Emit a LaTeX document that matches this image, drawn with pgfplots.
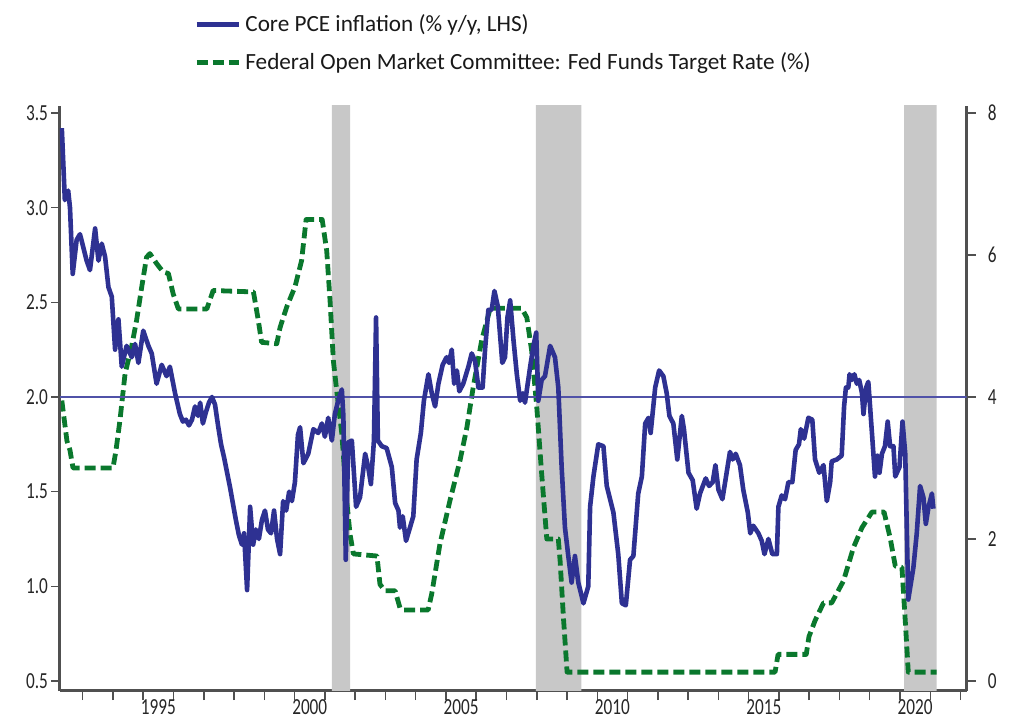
\documentclass[border=0pt]{standalone}
\usepackage{fontspec}
\setmainfont{Carlito}
\newfontfamily\tickfont[FakeStretch=0.75]{Carlito}
\usepackage{pgfplots}
\pgfplotsset{compat=1.18}
\definecolor{pceblue}{RGB}{46,49,146}
\definecolor{refblue}{RGB}{80,82,168}
\definecolor{fedgreen}{RGB}{10,120,45}
\definecolor{recgray}{RGB}{200,200,200}
\definecolor{axgray}{RGB}{80,80,80}
\begin{document}
\begin{tikzpicture}
\useasboundingbox (-30pt,-16.5pt) rectangle (476.5pt,345.5pt);
\pgfplotsset{
  common/.style={
    at={(0pt,0pt)}, anchor=south west,
    width=453.35pt, height=292.5pt, scale only axis,
    xmin=1992.25, xmax=2022.20,
    tick align=outside,
    major tick length=4.5pt,
    every tick/.style={axgray, line width=0.75pt},
    axis line style={axgray, line width=1.5pt},
    tick label style={font=\tickfont\fontsize{11.5}{12}\selectfont, text=black!85},
    /pgf/number format/assume math mode=true,
  }
}
\begin{axis}[common,
  axis x line*=bottom, axis y line*=right,
  ymin=-0.141, ymax=8.099,
  ytick={0,2,4,6,8},
  yticklabel style={xshift=2.5pt},
  xtick={1993,...,2022},
  xticklabels={,,1995,,,,,2000,,,,,2005,,,,,2010,,,,,2015,,,,,2020,,},
  xticklabel style={xshift=7.57pt, yshift=3.5pt},
]
\addplot[fill=recgray, draw=none, forget plot] coordinates {(2001.23,-1) (2001.83,-1) (2001.83,9) (2001.23,9) (2001.23,-1)};
\addplot[fill=recgray, draw=none, forget plot] coordinates {(2007.97,-1) (2009.47,-1) (2009.47,9) (2007.97,9) (2007.97,-1)};
\addplot[fill=recgray, draw=none, forget plot] coordinates {(2020.13,-1) (2021.21,-1) (2021.21,9) (2020.13,9) (2020.13,-1)};
\addplot[fedgreen, line width=2.4pt, dash pattern=on 5.5pt off 2.5pt, line join=round, forget plot] coordinates {
(1992.31,3.95) (1992.48,3.38) (1992.58,3.25) (1992.68,3.0) (1994.00,3.0) (1994.10,3.25) (1994.23,3.67) (1994.40,4.33) (1994.62,4.72) (1994.78,5.08) (1994.95,5.55) (1995.11,5.97) (1995.22,6.02) (1995.44,5.88) (1995.66,5.76) (1995.83,5.74) (1995.99,5.45) (1996.16,5.24) (1997.10,5.24) (1997.31,5.50) (1998.64,5.48) (1998.80,5.08) (1998.91,4.77) (1999.41,4.75) (1999.52,4.98) (1999.74,5.27) (2000.01,5.55) (2000.23,5.92) (2000.38,6.5) (2000.91,6.5) (2001.06,6.06) (2001.17,5.36) (2001.28,4.51) (2001.39,4.09) (2001.56,3.48) (2001.72,2.54) (2001.83,2.07) (2001.94,1.79) (2002.72,1.76) (2002.82,1.36) (2002.99,1.27) (2003.32,1.27) (2003.48,1.03) (2003.58,1.0) (2004.41,1.0) (2004.53,1.23) (2004.80,1.93) (2005.13,2.54) (2005.46,3.10) (2005.69,3.57) (2005.90,4.14) (2006.18,4.80) (2006.46,5.25) (2007.50,5.25) (2007.67,5.12) (2007.83,4.65) (2008.00,3.85) (2008.16,2.92) (2008.33,2.0) (2008.71,2.0) (2008.77,1.69) (2008.88,0.89) (2009.00,0.125) (2015.87,0.125) (2015.97,0.375) (2016.90,0.375) (2016.99,0.625) (2017.19,0.85) (2017.47,1.10) (2017.74,1.10) (2018.13,1.41) (2018.46,1.88) (2018.74,2.16) (2019.07,2.38) (2019.47,2.38) (2019.67,2.02) (2019.84,1.62) (2020.06,1.60) (2020.17,0.85) (2020.27,0.125) (2021.21,0.125)
};
\end{axis}
\begin{axis}[common,
  axis x line=none, axis y line*=left,
  ymin=0.447, ymax=3.537,
  ytick={0.5,1.0,1.5,2.0,2.5,3.0,3.5},
  yticklabel style={xshift=2pt, /pgf/number format/fixed, /pgf/number format/fixed zerofill, /pgf/number format/precision=1},
  legend style={at={(0.148,1.164)}, anchor=north west, draw=none, fill=none,
    font=\fontsize{11.6}{13}\selectfont, text=black!90, row sep=5pt, inner sep=0pt},
  legend cell align=left,
  legend image code/.code={\draw[#1] (0pt,0pt) -- (16pt,0pt); \path (0pt,0pt) -- (21pt,0pt);},
]
\addplot[refblue, line width=0.8pt, forget plot] coordinates {(1992.25,2) (2022.2,2)};
\addplot[pceblue, line width=2.3pt, line join=round] coordinates {
(1992.31,3.42) (1992.41,3.04) (1992.52,3.09) (1992.58,3.00) (1992.67,2.65) (1992.80,2.83) (1992.91,2.86) (1993.02,2.79) (1993.13,2.72) (1993.24,2.67) (1993.41,2.89) (1993.52,2.72) (1993.63,2.81) (1993.74,2.74) (1993.85,2.58) (1993.96,2.53) (1994.07,2.25) (1994.18,2.41) (1994.29,2.16) (1994.45,2.27) (1994.62,2.21) (1994.73,2.28) (1994.84,2.18) (1995.00,2.35) (1995.17,2.27) (1995.28,2.23) (1995.44,2.07) (1995.61,2.17) (1995.77,2.11) (1995.88,2.16) (1996.05,2.02) (1996.21,1.91) (1996.31,1.87) (1996.41,1.88) (1996.51,1.85) (1996.61,1.88) (1996.71,1.95) (1996.81,1.90) (1996.88,1.97) (1996.97,1.86) (1997.07,1.92) (1997.17,1.97) (1997.27,2.00) (1997.37,1.96) (1997.47,1.85) (1997.57,1.75) (1997.67,1.68) (1997.77,1.60) (1997.87,1.52) (1997.97,1.43) (1998.06,1.35) (1998.16,1.27) (1998.26,1.22) (1998.33,1.28) (1998.43,0.98) (1998.53,1.42) (1998.63,1.22) (1998.72,1.30) (1998.82,1.25) (1998.92,1.35) (1999.02,1.40) (1999.12,1.30) (1999.22,1.28) (1999.32,1.40) (1999.42,1.25) (1999.52,1.17) (1999.62,1.45) (1999.72,1.40) (1999.82,1.50) (1999.91,1.45) (2000.01,1.55) (2000.11,1.80) (2000.18,1.84) (2000.29,1.65) (2000.45,1.70) (2000.62,1.83) (2000.78,1.81) (2000.90,1.86) (2001.00,1.79) (2001.11,1.89) (2001.23,1.77) (2001.33,1.91) (2001.44,1.98) (2001.56,2.04) (2001.61,1.90) (2001.69,1.14) (2001.77,1.76) (2001.89,1.77) (2002.03,1.42) (2002.16,1.47) (2002.33,1.70) (2002.43,1.63) (2002.52,1.54) (2002.62,1.77) (2002.69,2.42) (2002.75,1.77) (2002.88,1.74) (2003.04,1.73) (2003.21,1.63) (2003.32,1.44) (2003.43,1.40) (2003.48,1.31) (2003.57,1.37) (2003.68,1.24) (2003.81,1.31) (2003.92,1.37) (2004.03,1.67) (2004.17,1.81) (2004.27,1.98) (2004.42,2.12) (2004.53,2.02) (2004.64,1.95) (2004.75,2.07) (2004.89,2.17) (2005.02,2.21) (2005.10,2.18) (2005.19,2.25) (2005.27,2.07) (2005.36,2.14) (2005.44,2.03) (2005.57,2.07) (2005.74,2.16) (2005.85,2.23) (2005.96,2.19) (2006.07,2.05) (2006.21,2.05) (2006.29,2.25) (2006.40,2.46) (2006.51,2.46) (2006.60,2.56) (2006.71,2.48) (2006.79,2.32) (2006.86,2.18) (2006.95,2.21) (2007.03,2.42) (2007.12,2.51) (2007.23,2.30) (2007.34,2.12) (2007.45,1.98) (2007.54,2.02) (2007.61,1.97) (2007.78,2.16) (2007.89,2.27) (2007.98,2.34) (2008.05,1.98) (2008.16,2.09) (2008.27,2.11) (2008.44,2.27) (2008.60,2.21) (2008.71,2.05) (2008.82,1.63) (2008.93,1.31) (2009.04,1.16) (2009.15,1.02) (2009.26,1.16) (2009.37,1.02) (2009.54,0.91) (2009.70,1.00) (2009.76,1.42) (2009.87,1.58) (2010.03,1.75) (2010.20,1.74) (2010.31,1.53) (2010.53,1.39) (2010.69,1.17) (2010.81,0.91) (2010.94,0.90) (2011.08,1.14) (2011.19,1.16) (2011.35,1.49) (2011.47,1.58) (2011.58,1.86) (2011.69,1.89) (2011.76,1.81) (2011.91,2.05) (2012.04,2.14) (2012.18,2.11) (2012.29,2.02) (2012.38,1.90) (2012.51,1.86) (2012.64,1.67) (2012.79,1.90) (2012.86,1.83) (2013.01,1.60) (2013.15,1.56) (2013.28,1.41) (2013.39,1.49) (2013.58,1.57) (2013.69,1.53) (2013.81,1.55) (2013.90,1.64) (2014.00,1.51) (2014.13,1.46) (2014.28,1.61) (2014.38,1.71) (2014.47,1.67) (2014.57,1.70) (2014.71,1.64) (2014.82,1.51) (2014.97,1.39) (2015.05,1.28) (2015.15,1.32) (2015.32,1.28) (2015.43,1.24) (2015.52,1.17) (2015.65,1.25) (2015.78,1.17) (2015.93,1.17) (2015.98,1.42) (2016.09,1.48) (2016.20,1.46) (2016.31,1.55) (2016.44,1.55) (2016.55,1.72) (2016.66,1.75) (2016.72,1.83) (2016.83,1.78) (2016.97,1.89) (2017.10,1.88) (2017.19,1.67) (2017.33,1.60) (2017.47,1.64) (2017.58,1.45) (2017.69,1.55) (2017.74,1.66) (2017.91,1.67) (2018.07,1.69) (2018.15,1.95) (2018.21,2.05) (2018.29,2.05) (2018.33,2.12) (2018.41,2.09) (2018.49,2.12) (2018.57,2.07) (2018.65,2.09) (2018.74,2.02) (2018.79,1.91) (2018.88,2.05) (2018.95,2.08) (2019.07,1.81) (2019.17,1.58) (2019.25,1.69) (2019.32,1.60) (2019.40,1.70) (2019.50,1.74) (2019.59,1.87) (2019.67,1.74) (2019.78,1.74) (2019.84,1.58) (2019.98,1.63) (2020.08,1.87) (2020.17,1.70) (2020.27,0.93) (2020.44,1.10) (2020.55,1.28) (2020.66,1.53) (2020.77,1.47) (2020.85,1.33) (2020.94,1.42) (2021.05,1.49) (2021.10,1.41)
};
\addlegendentry{Core PCE inflation (\% y/y, LHS)}
\addlegendimage{fedgreen, line width=2.4pt, dash pattern=on 5.5pt off 2.5pt}
\addlegendentry{Federal Open Market Committee: Fed Funds Target Rate (\%)}
\end{axis}
\end{tikzpicture}
\end{document}
